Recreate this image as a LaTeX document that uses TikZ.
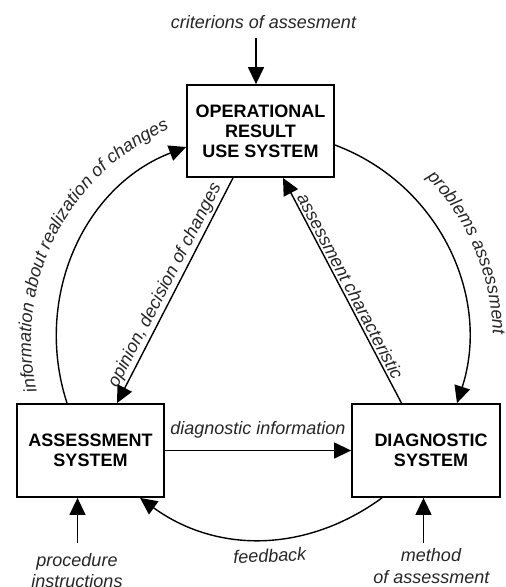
\documentclass[tikz,border=0pt]{standalone}
\usepackage{fontspec}
\setmainfont{Liberation Sans}
\usetikzlibrary{arrows.meta,decorations.text,calc}
\begin{document}
\begin{tikzpicture}[x=1pt,y=1pt,
  box/.style={draw, line width=1.8pt, minimum width=147pt, minimum height=93pt,
    inner sep=0pt, align=center, font=\bfseries\fontsize{18}{20}\selectfont},
  conn/.style={line width=1.4pt, -{Triangle[length=17pt,width=16pt]}},
  lbl/.style={font=\itshape\fontsize{18}{20}\selectfont, text=black!85, inner sep=2pt},
  curvtext/.style={decorate, decoration={text along path, text color=black!85,
    text={|\itshape\fontsize{18}{20}\selectfont|#1}}}
]
\useasboundingbox (0,0) rectangle (506,-587);
\clip (0,0) rectangle (506,-587);

% boxes
\node[box, minimum height=92pt] (op) at (260.5,-131) {OPERATIONAL\\RESULT\\USE SYSTEM};
\node[box] (as) at (90.5,-450.5) {ASSESSMENT\\SYSTEM};
\node[box, minimum width=148pt] (dg) at (426,-450.5) {\hspace*{10pt}DIAGNOSTIC\\\hspace*{10pt}SYSTEM};

% inputs
\coordinate (topin) at (256,-38);
\coordinate (asin) at (77.5,-543);
\coordinate (dgin) at (423.5,-543);
\draw[conn] (topin) -- (topin |- op.north);
\draw[conn] (asin) -- (asin |- as.south);
\draw[conn] (dgin) -- (dgin |- dg.south);

\node[lbl, anchor=base] (crit) at (263.5,-28) {criterions of assesment};
\node[lbl, anchor=base] (proc1) at (77,-566.5) {procedure};
\node[lbl, anchor=base] (proc2) at (77,-587) {instructions};
\node[lbl, anchor=base] (meth1) at (431,-561.7) {method};
\node[lbl, anchor=base] (meth2) at (431.4,-583.3) {of assessment};

% straight connectors
\draw[conn] ([xshift=-27.5pt]op.south) -- node[lbl, sloped, above] (opl) {opinion, decision of changes} ([xshift=26.5pt]as.north);
\draw[conn] ([xshift=-24.5pt]dg.north) -- node[lbl, sloped, above] (acl) {assessment characteristic} ([xshift=22.5pt]op.south);
\draw[conn] (as.east) -- node[lbl, above=10pt] (dil) {diagnostic information} (dg.west);

% arcs
\draw[conn] ([xshift=-23.5pt]as.north) to[out=108,in=201] ([yshift=-16pt]op.west);
\draw[conn] ([yshift=-14pt]op.east) to[out=-20.5,in=72] ([xshift=31pt]dg.north);
\draw[conn] ([xshift=-44pt]dg.south) to[out=-144,in=-36] ([xshift=49.5pt]as.south);
\node[lbl, anchor=base, rotate=2.5] (fb) at (270,-562) {feedback};

% curved labels
\coordinate (cc) at (261,-340);
\path[curvtext={information about realization of changes}]
  ($(cc)+(193:230)$) arc[start angle=193, end angle=95, radius=230];
\path[curvtext={problems assessment}]
  ($(cc)+(44.5:232)$) arc[start angle=44.5, end angle=-15, radius=232];
\end{tikzpicture}
\end{document}
